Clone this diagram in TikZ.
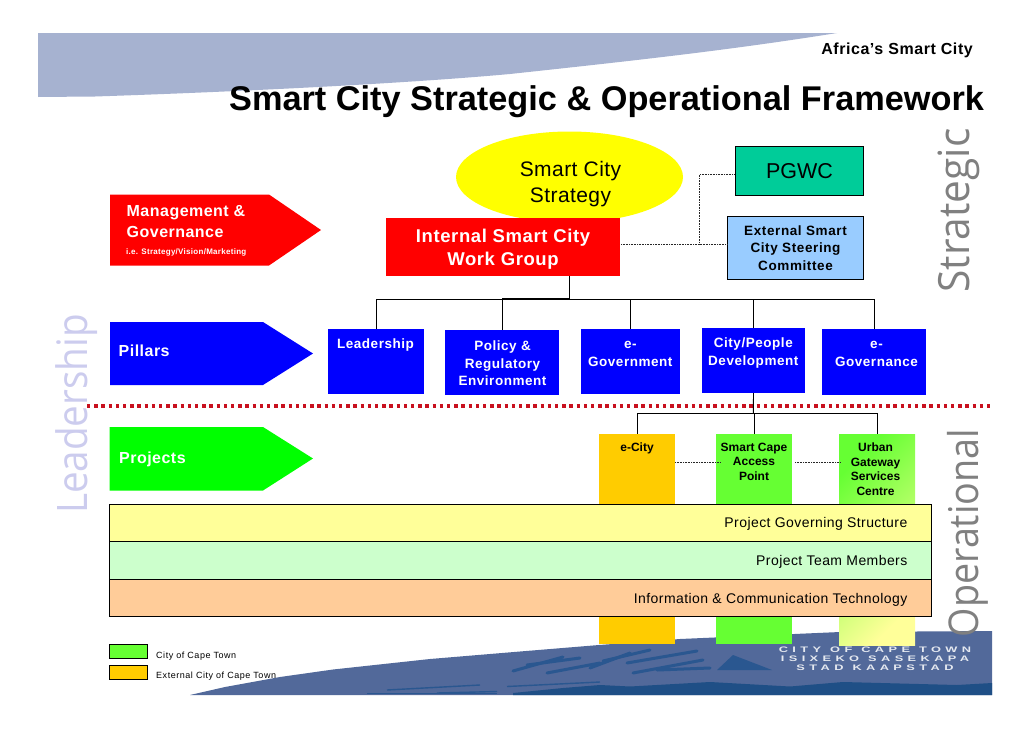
\documentclass[tikz,border=0pt]{standalone}
\usepackage{fontspec}
\usetikzlibrary{shapes.geometric}
\setmainfont{Liberation Sans}
\newfontfamily\sidefont{Open Sans}
\newcommand{\fsz}[3]{\fontsize{#1}{#2}\selectfont\addfontfeatures{LetterSpace=#3}}
\newcommand{\logogap}{\spaceskip 9pt\relax}
\definecolor{swoosh}{HTML}{A6B2D0}
\definecolor{logoblue}{HTML}{52699A}
\definecolor{logodark}{HTML}{1F4F86}
\definecolor{logomid}{HTML}{2A5790}
\definecolor{pgwc}{HTML}{00CC99}
\definecolor{steer}{HTML}{99CCFF}
\definecolor{bandy}{HTML}{FFFF99}
\definecolor{bandg}{HTML}{CCFFCC}
\definecolor{bando}{HTML}{FFCC99}
\definecolor{ccgreen}{HTML}{66FF33}
\definecolor{ecorange}{HTML}{FFCC00}
\definecolor{sidegray}{HTML}{808080}
\definecolor{sidelav}{HTML}{CCCCEE}
\definecolor{reddot}{HTML}{C8101E}
\definecolor{pureyellow}{HTML}{FFFF00}
\tikzset{
  boxbase/.style={inner sep=0pt,outer sep=0pt,anchor=north west},
  bluebox/.style={boxbase,fill=blue},
  col/.style={boxbase},
  band/.style={boxbase,draw=black,line width=0.9pt,minimum width=822pt},
  white lab/.style={text=white,font=\bfseries,align=center,inner sep=0pt},
  black lab/.style={text=black,align=center,inner sep=0pt},
  tree/.style={black,line width=0.9pt},
  dotline/.style={black!85,line width=0.6pt,dash pattern=on 0.9pt off 0.7pt},
  side/.style={rotate=90,inner sep=0pt,anchor=base},
  legendbox/.style={boxbase,draw=black,line width=0.9pt,minimum width=38pt,minimum height=14.5pt},
  stripe/.style={logomid,line width=3pt,line cap=round},
}
\begin{document}
\begin{tikzpicture}[x=1pt,y=-1pt]
\useasboundingbox (0,0) rectangle (1030,728);
\fill[white] (0,0) rectangle (1030,728);
% top swoosh
\fill[swoosh] (38,33) -- (837,33) .. controls (730,50) and (640,60) .. (510,74) .. controls (400,84) and (230,92) .. (95,96.5) -- (38,97) -- cycle;
% bottom logo band
\fill[logoblue] (190,695) -- (225,687) -- (280,677) -- (333,669.5) -- (430,659) -- (520,651.5) -- (599,645) -- (680,639) -- (840,632) -- (992,631) -- (992,695) -- cycle;
\fill[logodark] (513,695) -- (513,693) -- (563,688) -- (600,685) -- (630,686.5) -- (710,682) -- (790,686.5) -- (843,682) -- (957,685) -- (992,683) -- (992,695) -- cycle;
\draw[stripe] (513,671) -- (563,657);
\draw[stripe] (527,665) -- (580,658);
\draw[stripe] (547,673) -- (600,663);
\draw[stripe] (590,668) -- (630,653);
\draw[stripe] (603,661) -- (650,650);
\draw[stripe] (627,663) -- (697,651);
\draw[stripe] (633,673) -- (703,660);
\draw[stripe] (657,670) -- (710,668);
\fill[logomid] (717,670) -- (733,655) -- (772,670) -- cycle;
\draw[logomid,line width=1.4pt] (367,693.5) -- (497,693.5);
\draw[logomid,line width=1.4pt] (387,690) -- (480,685);
\draw[logomid,line width=1.4pt] (437,693) -- (497,691.5);
\draw[logomid,line width=1.4pt] (507,686.5) -- (600,682);
\node[inner sep=0pt,align=center,text=white!85!logoblue,font=\bfseries\fsz{8}{9}{55}\addfontfeatures{FakeStretch=1.6}\logogap] (logotext) at (875,659) {CITY OF CAPE TOWN\\ISIXEKO SASEKAPA\\STAD KAAPSTAD};
% side labels
\node[side,text=sidegray,font=\sidefont\fontsize{43}{44}\selectfont\addfontfeatures{FakeStretch=0.945}] (strategic) at (969.5,210.5) {Strategic};
\node[side,text=sidelav,font=\sidefont\fontsize{42}{44}\selectfont\addfontfeatures{FakeStretch=0.92}] (leadership) at (87.5,414) {Leadership};
% columns
\node[col,fill=ecorange,minimum width=76pt,minimum height=210pt] (ecity) at (599,434) {};
\node[col,fill=ccgreen,minimum width=76pt,minimum height=210pt] (cape) at (716,434) {};
\node[col,left color=ccgreen,right color=bandy,shading angle=45,minimum width=76pt,minimum height=211pt] (urban) at (839,434) {};
\node[side,text=sidegray,font=\sidefont\fontsize{41}{44}\selectfont\addfontfeatures{FakeStretch=0.92}] (operational) at (978,533) {Operational};
% red dotted divider
\coordinate (divL) at (87,406);
\coordinate (divR) at (992,406);
\draw[reddot,line width=3.2pt,dash pattern=on 3.4pt off 3.8pt] (divL) -- (divR);
% arrows
\fill[red] (110,194.5) -- (269,194.5) -- (321,230) -- (269,265.5) -- (110,265.5) -- cycle;
\fill[blue] (110,322) -- (263,322) -- (313,353.5) -- (263,385) -- (110,385) -- cycle;
\fill[green] (109.5,427) -- (263,427) -- (313,458.5) -- (263,490.5) -- (109.5,490.5) -- cycle;
\node[white lab,anchor=north west,align=left,font=\bfseries\fsz{16}{21}{3}] (mg) at (126.5,205) {Management \&\\Governance};
\node[white lab,anchor=north west,font=\bfseries\fsz{8}{9}{3.5}] (mgsub) at (126,248.5) {i.e. Strategy/Vision/Marketing};
\node[white lab,anchor=west,font=\bfseries\fsz{16}{20}{3}] (pillars) at (118.5,350.5) {Pillars};
\node[white lab,anchor=west,font=\bfseries\fsz{16}{20}{3}] (projects) at (119,459.5) {Projects};
% strategy
\node[ellipse,fill=pureyellow,minimum width=227pt,minimum height=91pt,inner sep=0pt] (strategy) at (569.5,177) {};
\node[black lab,font=\fsz{21}{26}{2}] (strategytext) at (570.5,184) {Smart City\\Strategy};
\node[boxbase,fill=red,minimum width=234pt,minimum height=58pt] (wg) at (386,218) {};
\node[white lab,font=\bfseries\fsz{18.5}{23}{3.3}] (wgtext) at (503,249.5) {Internal Smart City\\Work Group};
\node[boxbase,fill=pgwc,draw=black,line width=0.9pt,minimum width=128pt,minimum height=49pt] (pg) at (735.5,146.5) {};
\node[black lab,font=\fontsize{21.5}{24}\selectfont] (pgtext) at (799.5,171.5) {PGWC};
\node[boxbase,fill=steer,draw=black,line width=0.9pt,minimum width=136.5pt,minimum height=63pt] (ext) at (727.3,216.5) {};
\node[black lab,font=\bfseries\fsz{13.5}{17.3}{4.5}] (exttext) at (795.5,248) {External Smart\\City Steering\\Committee};
% pillars
\node[bluebox,minimum width=96pt,minimum height=65pt] (p1) at (328,329) {};
\node[bluebox,minimum width=114pt,minimum height=65pt] (p2) at (445,330) {};
\node[bluebox,minimum width=99pt,minimum height=65pt] (p3) at (581,329) {};
\node[bluebox,minimum width=103pt,minimum height=65pt] (p4) at (702,328) {};
\node[bluebox,minimum width=104pt,minimum height=66pt] (p5) at (822,329) {};
\tikzset{plab/.style={white lab,anchor=north,font=\bfseries\fsz{13.5}{17.7}{4}}}
\node[plab] (p1t) at (375.5,338.5) {Leadership};
\node[plab] (p2t) at (502.5,340.5) {Policy \&\\Regulatory\\Environment};
\node[plab] (p3t) at (630.3,341) {e-\\Government};
\node[plab] (p4t) at (753.3,338) {City/People\\Development};
\node[plab] (p5t) at (876.5,341) {e-\\Governance};
% tree upper
\coordinate (bus) at (569.5,299.5);
\draw[tree] (wg.south -| bus) -- (bus);
\draw[tree] (bus) -| (p1.north);
\draw[tree] (569.5,298) -| (p2.north);
\draw[tree] (bus) -| (p3.north);
\draw[tree] (bus) -| (p4.north);
\draw[tree] (bus) -| (p5.north);
% dotted
\coordinate (dj) at (699.5,244.5);
\draw[dotline] (621,244.5) -- (dj) -- (727,244.5);
\draw[dotline] (dj) |- (735,174.5);
% tree lower
\coordinate (bus2) at (753.3,413);
\draw[tree] (p4.south) -- (bus2);
\draw[tree] (bus2) -| (ecity.north);
\draw[tree] (bus2) -| (cape.north);
\draw[tree] (bus2) -| (urban.north);
% project labels
\tikzset{prlab/.style={black lab,anchor=north,font=\bfseries\fontsize{12}{14.7}\selectfont}}
\node[prlab] (e1) at (637,442.5) {e-City};
\node[prlab] (e2) at (754,442.5) {Smart Cape\\Access\\Point};
\node[prlab] (e3) at (875.5,442.5) {Urban\\Gateway\\Services\\Centre};
\draw[dotline] (ecity.east |- 0,462.3) -- (720,462.3);
\draw[dotline] (795,462.3) -- (840,462.3);
% bands
\node[band,fill=bandy,minimum height=37pt] (b1) at (109.5,504.5) {};
\node[band,fill=bandg,minimum height=38pt] (b2) at (109.5,541.5) {};
\node[band,fill=bando,minimum height=37pt] (b3) at (109.5,579.5) {};
\tikzset{blab/.style={black lab,anchor=east,font=\fsz{14}{16}{3}}}
\node[blab] (b1t) at (907.5,524) {Project Governing Structure};
\node[blab] (b2t) at (907.5,562) {Project Team Members};
\node[blab] (b3t) at (907.5,599.5) {Information \& Communication Technology};
% legend
\node[legendbox,fill=ccgreen] (lg) at (109.5,644) {};
\node[legendbox,fill=ecorange] (lo) at (109.5,665) {};
\tikzset{leglab/.style={black lab,anchor=west,font=\fsz{9}{11}{6}}}
\node[leglab] (lgt) at (156,656) {City of Cape Town};
\node[leglab] (lot) at (156,676) {External City of Cape Town};
% title
\node[inner sep=0pt,anchor=west,font=\bfseries\fontsize{34.3}{36}\selectfont] (title) at (229,101.5) {Smart City Strategic \& Operational Framework};
\node[inner sep=0pt,anchor=east,font=\bfseries\fsz{16}{18}{3.5}] (africa) at (973,50) {Africa’s Smart City};
\end{tikzpicture}
\end{document}
